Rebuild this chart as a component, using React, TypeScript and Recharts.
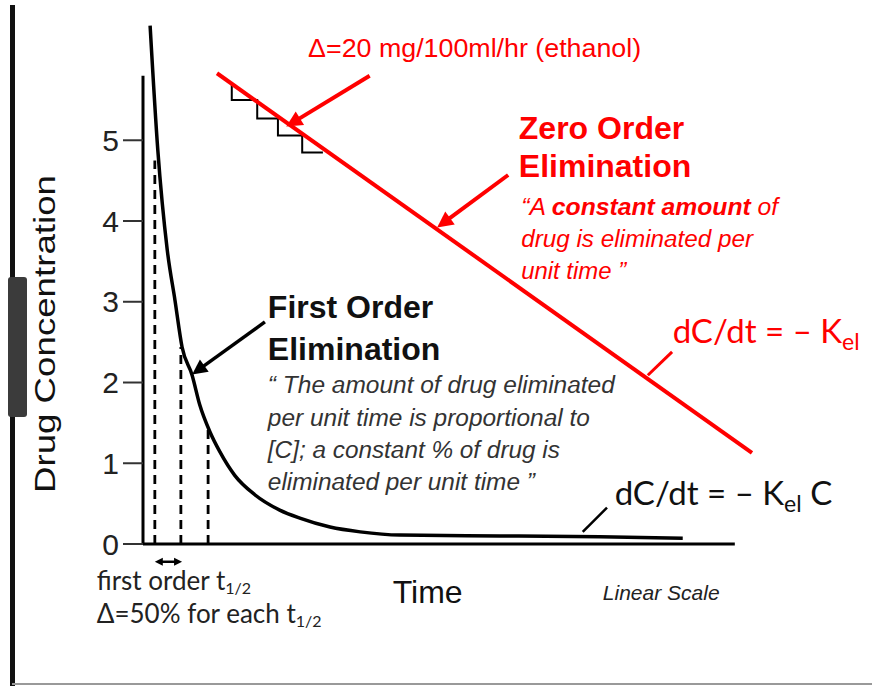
import React from "react";
import {
  ComposedChart,
  Line,
  XAxis,
  YAxis,
  ReferenceLine,
  ReferenceDot,
} from "recharts";

// first order curve (time, concentration)
const firstOrderTime = [0.12, 0.25, 0.41, 0.54, 0.66, 0.83, 0.96, 1.13, 1.3, 1.55, 1.89, 2.31, 2.65, 3.16, 3.67, 4.34, 6.03, 7.72, 9.12];
const firstOrderConc = [6.42, 4.88, 3.64, 3.02, 2.44, 2.09, 1.72, 1.39, 1.14, 0.85, 0.61, 0.42, 0.32, 0.21, 0.15, 0.11, 0.1, 0.09, 0.07];

// zero order line
const zeroOrderTime = [1.25, 10.29];
const zeroOrderConc = [5.83, 1.13];

// the little staircase under the red line
const stepTime = [1.5, 1.93, 2.28, 2.69, 3.04];
const stepConc = [5.69, 5.5, 5.27, 5.06, 4.85];

// dashed half-life markers
const halfLifeTime = [0.2, 0.64, 1.1];
const halfLifeConc = [4.75, 2.44, 1.42];

const yTicks = [0, 1, 2, 3, 4, 5];

const firstOrder = firstOrderTime.map((t, i) => ({ t, c: firstOrderConc[i] }));
const zeroOrder = zeroOrderTime.map((t, i) => ({ t, c: zeroOrderConc[i] }));
const steps = stepTime.map((t, i) => ({ t, c: stepConc[i] }));

const ARIAL = "'Liberation Sans', Arial, sans-serif";
const CALIBRI = "Lato, 'Open Sans', sans-serif";
const RED = "#ff0000";

const arrow = (head: number, both = false) => (p: any) => {
  const { x1, y1, x2, y2, stroke, strokeWidth } = p;
  const a = Math.atan2(y2 - y1, x2 - x1);
  const w = head * 0.5;
  const tri = (x: number, y: number, ang: number) => {
    const bx = x - head * Math.cos(ang);
    const by = y - head * Math.sin(ang);
    const px = -Math.sin(ang) * w;
    const py = Math.cos(ang) * w;
    return `${x},${y} ${bx + px},${by + py} ${bx - px},${by - py}`;
  };
  const sx = both ? x1 + head * 0.8 * Math.cos(a) : x1;
  const sy = both ? y1 + head * 0.8 * Math.sin(a) : y1;
  const ex = x2 - head * 0.8 * Math.cos(a);
  const ey = y2 - head * 0.8 * Math.sin(a);
  return (
    <g>
      <line x1={sx} y1={sy} x2={ex} y2={ey} stroke={stroke} strokeWidth={strokeWidth} />
      <polygon points={tri(x2, y2, a)} fill={stroke} />
      {both && <polygon points={tri(x1, y1, a + Math.PI)} fill={stroke} />}
    </g>
  );
};

const note = (key: string, t: number, v: number, render: (x: number, y: number) => React.ReactNode) => (
  <ReferenceDot
    key={key}
    x={t}
    y={v}
    r={0}
    ifOverflow="visible"
    shape={(p: any) => <g>{render(p.cx, p.cy)}</g>}
  />
);

const seg = (key: string, a: [number, number], b: [number, number], color: string, width: number, shape?: any, dash?: string) => (
  <ReferenceLine
    key={key}
    segment={[{ x: a[0], y: a[1] }, { x: b[0], y: b[1] }]}
    stroke={color}
    strokeWidth={width}
    strokeDasharray={dash}
    ifOverflow="visible"
    shape={shape}
  />
);

const blackQuote = [
  "“ The amount of drug eliminated",
  "per unit time is proportional to",
  "[C]; a constant % of drug is",
  "eliminated per unit time ”",
];
const blackQuoteLen = [347, 322, 292, 267];
const blackQuoteY = [1.87, 1.46, 1.06, 0.67];

export default function App() {
  return (
    <div style={{ position: "absolute", left: 0, top: 0, width: 872, height: 686, background: "#fff", overflow: "hidden" }}>
      <div style={{ position: "absolute", left: 10, top: 5, width: 5, height: 681, background: "#111" }} />
      <div style={{ position: "absolute", left: 8, top: 277, width: 19, height: 140, background: "#3b3b3b", borderRadius: 3 }} />
      <div style={{ position: "absolute", left: 12, top: 683, width: 860, height: 2, background: "#999" }} />
      <div style={{ position: "absolute", left: 0, top: 0 }}>
        <ComposedChart width={872} height={686} margin={{ top: 3, right: 78, bottom: 142, left: 0 }}>
          <XAxis dataKey="t" type="number" domain={[0, 11]} hide allowDataOverflow />
          <YAxis
            type="number"
            domain={[0, 6.7]}
            ticks={yTicks}
            width={143}
            axisLine={false}
            tickSize={20}
            tickMargin={4}
            tickLine={{ stroke: "#333", strokeWidth: 2 }}
            tick={{ fontSize: 30, fill: "#222", fontFamily: ARIAL }}
            allowDataOverflow
          />

          {/* axes drawn as segments so they stop where the original does */}
          {seg("yaxis", [0, 0], [0, 5.8], "#000", 3)}
          {seg("xaxis", [0, 0], [10, 0], "#000", 3)}

          {halfLifeTime.map((t, i) => seg(`hl${i}`, [t, 0], [t, halfLifeConc[i]], "#000", 2.8, undefined, "9 6"))}

          <Line data={firstOrder} dataKey="c" type="monotone" stroke="#000" strokeWidth={3.5} dot={false} activeDot={false} isAnimationActive={false} />
          <Line data={steps} dataKey="c" type="stepBefore" stroke="#000" strokeWidth={2} dot={false} activeDot={false} isAnimationActive={false} />
          <Line data={zeroOrder} dataKey="c" type="linear" stroke={RED} strokeWidth={4} dot={false} activeDot={false} isAnimationActive={false} />

          {seg("a1", [3.83, 5.8], [2.42, 5.17], RED, 4, arrow(16))}
          {seg("a2", [6.17, 4.57], [4.97, 3.92], RED, 4, arrow(16))}
          {seg("a3", [2.06, 2.75], [0.83, 2.1], "#000", 3.5, arrow(15))}
          {seg("l1", [8.53, 2.09], [8.94, 2.38], RED, 3)}
          {seg("l2", [7.43, 0.15], [7.84, 0.45], "#000", 2.5)}
          {seg("dbl", [0.2, -0.22], [0.66, -0.22], "#000", 2.5, arrow(8, true))}

          {note("ylabel", -1.49, 2.6, (x, y) => (
            <text transform={`translate(${x},${y}) rotate(-90)`} textAnchor="middle" fontFamily={ARIAL} fontSize={29} fill="#111" textLength={318} lengthAdjust="spacingAndGlyphs">
              Drug Concentration
            </text>
          ))}
          {note("eth", 2.79, 6.03, (x, y) => (
            <text x={x} y={y} fontFamily={ARIAL} fontSize={26} fill={RED} textLength={333} lengthAdjust="spacingAndGlyphs">
              Δ=20 mg/100ml/hr (ethanol)
            </text>
          ))}
          {note("zo1", 6.35, 5.02, (x, y) => (
            <text x={x} y={y} fontFamily={ARIAL} fontSize={32} fontWeight="bold" fill={RED}>Zero Order</text>
          ))}
          {note("zo2", 6.35, 4.55, (x, y) => (
            <text x={x} y={y} fontFamily={ARIAL} fontSize={32} fontWeight="bold" fill={RED}>Elimination</text>
          ))}
          {note("zq1", 6.39, 4.08, (x, y) => (
            <text x={x} y={y} fontFamily={ARIAL} fontSize={23} fontStyle="italic" fill={RED} textLength={257} lengthAdjust="spacingAndGlyphs">
              “A <tspan fontWeight="bold">constant amount</tspan> of
            </text>
          ))}
          {note("zq2", 6.39, 3.68, (x, y) => (
            <text x={x} y={y} fontFamily={ARIAL} fontSize={23} fontStyle="italic" fill={RED} textLength={232} lengthAdjust="spacingAndGlyphs">drug is eliminated per</text>
          ))}
          {note("zq3", 6.39, 3.28, (x, y) => (
            <text x={x} y={y} fontFamily={ARIAL} fontSize={23} fontStyle="italic" fill={RED} textLength={105} lengthAdjust="spacingAndGlyphs">unit time ”</text>
          ))}
          {note("zeq", 8.95, 2.49, (x, y) => (
            <text x={x} y={y} fontFamily={CALIBRI} fontSize={33} fill={RED}>
              dC/dt = – K<tspan fontSize={23} dy={7}>el</tspan>
            </text>
          ))}
          {note("fo1", 2.11, 2.8, (x, y) => (
            <text x={x} y={y} fontFamily={ARIAL} fontSize={32} fontWeight="bold" fill="#111">First Order</text>
          ))}
          {note("fo2", 2.11, 2.28, (x, y) => (
            <text x={x} y={y} fontFamily={ARIAL} fontSize={32} fontWeight="bold" fill="#111">Elimination</text>
          ))}
          {blackQuote.map((s, i) =>
            note(`fq${i}`, 2.11, blackQuoteY[i], (x, y) => (
              <text x={x} y={y} fontFamily={ARIAL} fontSize={23} fontStyle="italic" fill="#333" textLength={blackQuoteLen[i]} lengthAdjust="spacingAndGlyphs">{s}</text>
            ))
          )}
          {note("feq", 7.97, 0.48, (x, y) => (
            <text x={x} y={y} fontFamily={CALIBRI} fontSize={33} fill="#111">
              dC/dt = – K<tspan fontSize={23} dy={7}>el</tspan><tspan dy={-7}> C</tspan>
            </text>
          ))}
          {note("time", 4.81, -0.73, (x, y) => (
            <text x={x} y={y} textAnchor="middle" fontFamily={ARIAL} fontSize={32} fill="#111">Time</text>
          ))}
          {note("lin", 7.77, -0.69, (x, y) => (
            <text x={x} y={y} fontFamily={ARIAL} fontSize={21} fontStyle="italic" fill="#222">Linear Scale</text>
          ))}
          {note("ht1", -0.78, -0.57, (x, y) => (
            <text x={x} y={y} fontFamily={CALIBRI} fontSize={26} fill="#222">
              first order t<tspan fontSize={16} dy={4}>1/2</tspan>
            </text>
          ))}
          {note("ht2", -0.78, -0.98, (x, y) => (
            <text x={x} y={y} fontFamily={CALIBRI} fontSize={26} fill="#222">
              Δ=50% for each t<tspan fontSize={16} dy={4}>1/2</tspan>
            </text>
          ))}
        </ComposedChart>
      </div>
    </div>
  );
}
